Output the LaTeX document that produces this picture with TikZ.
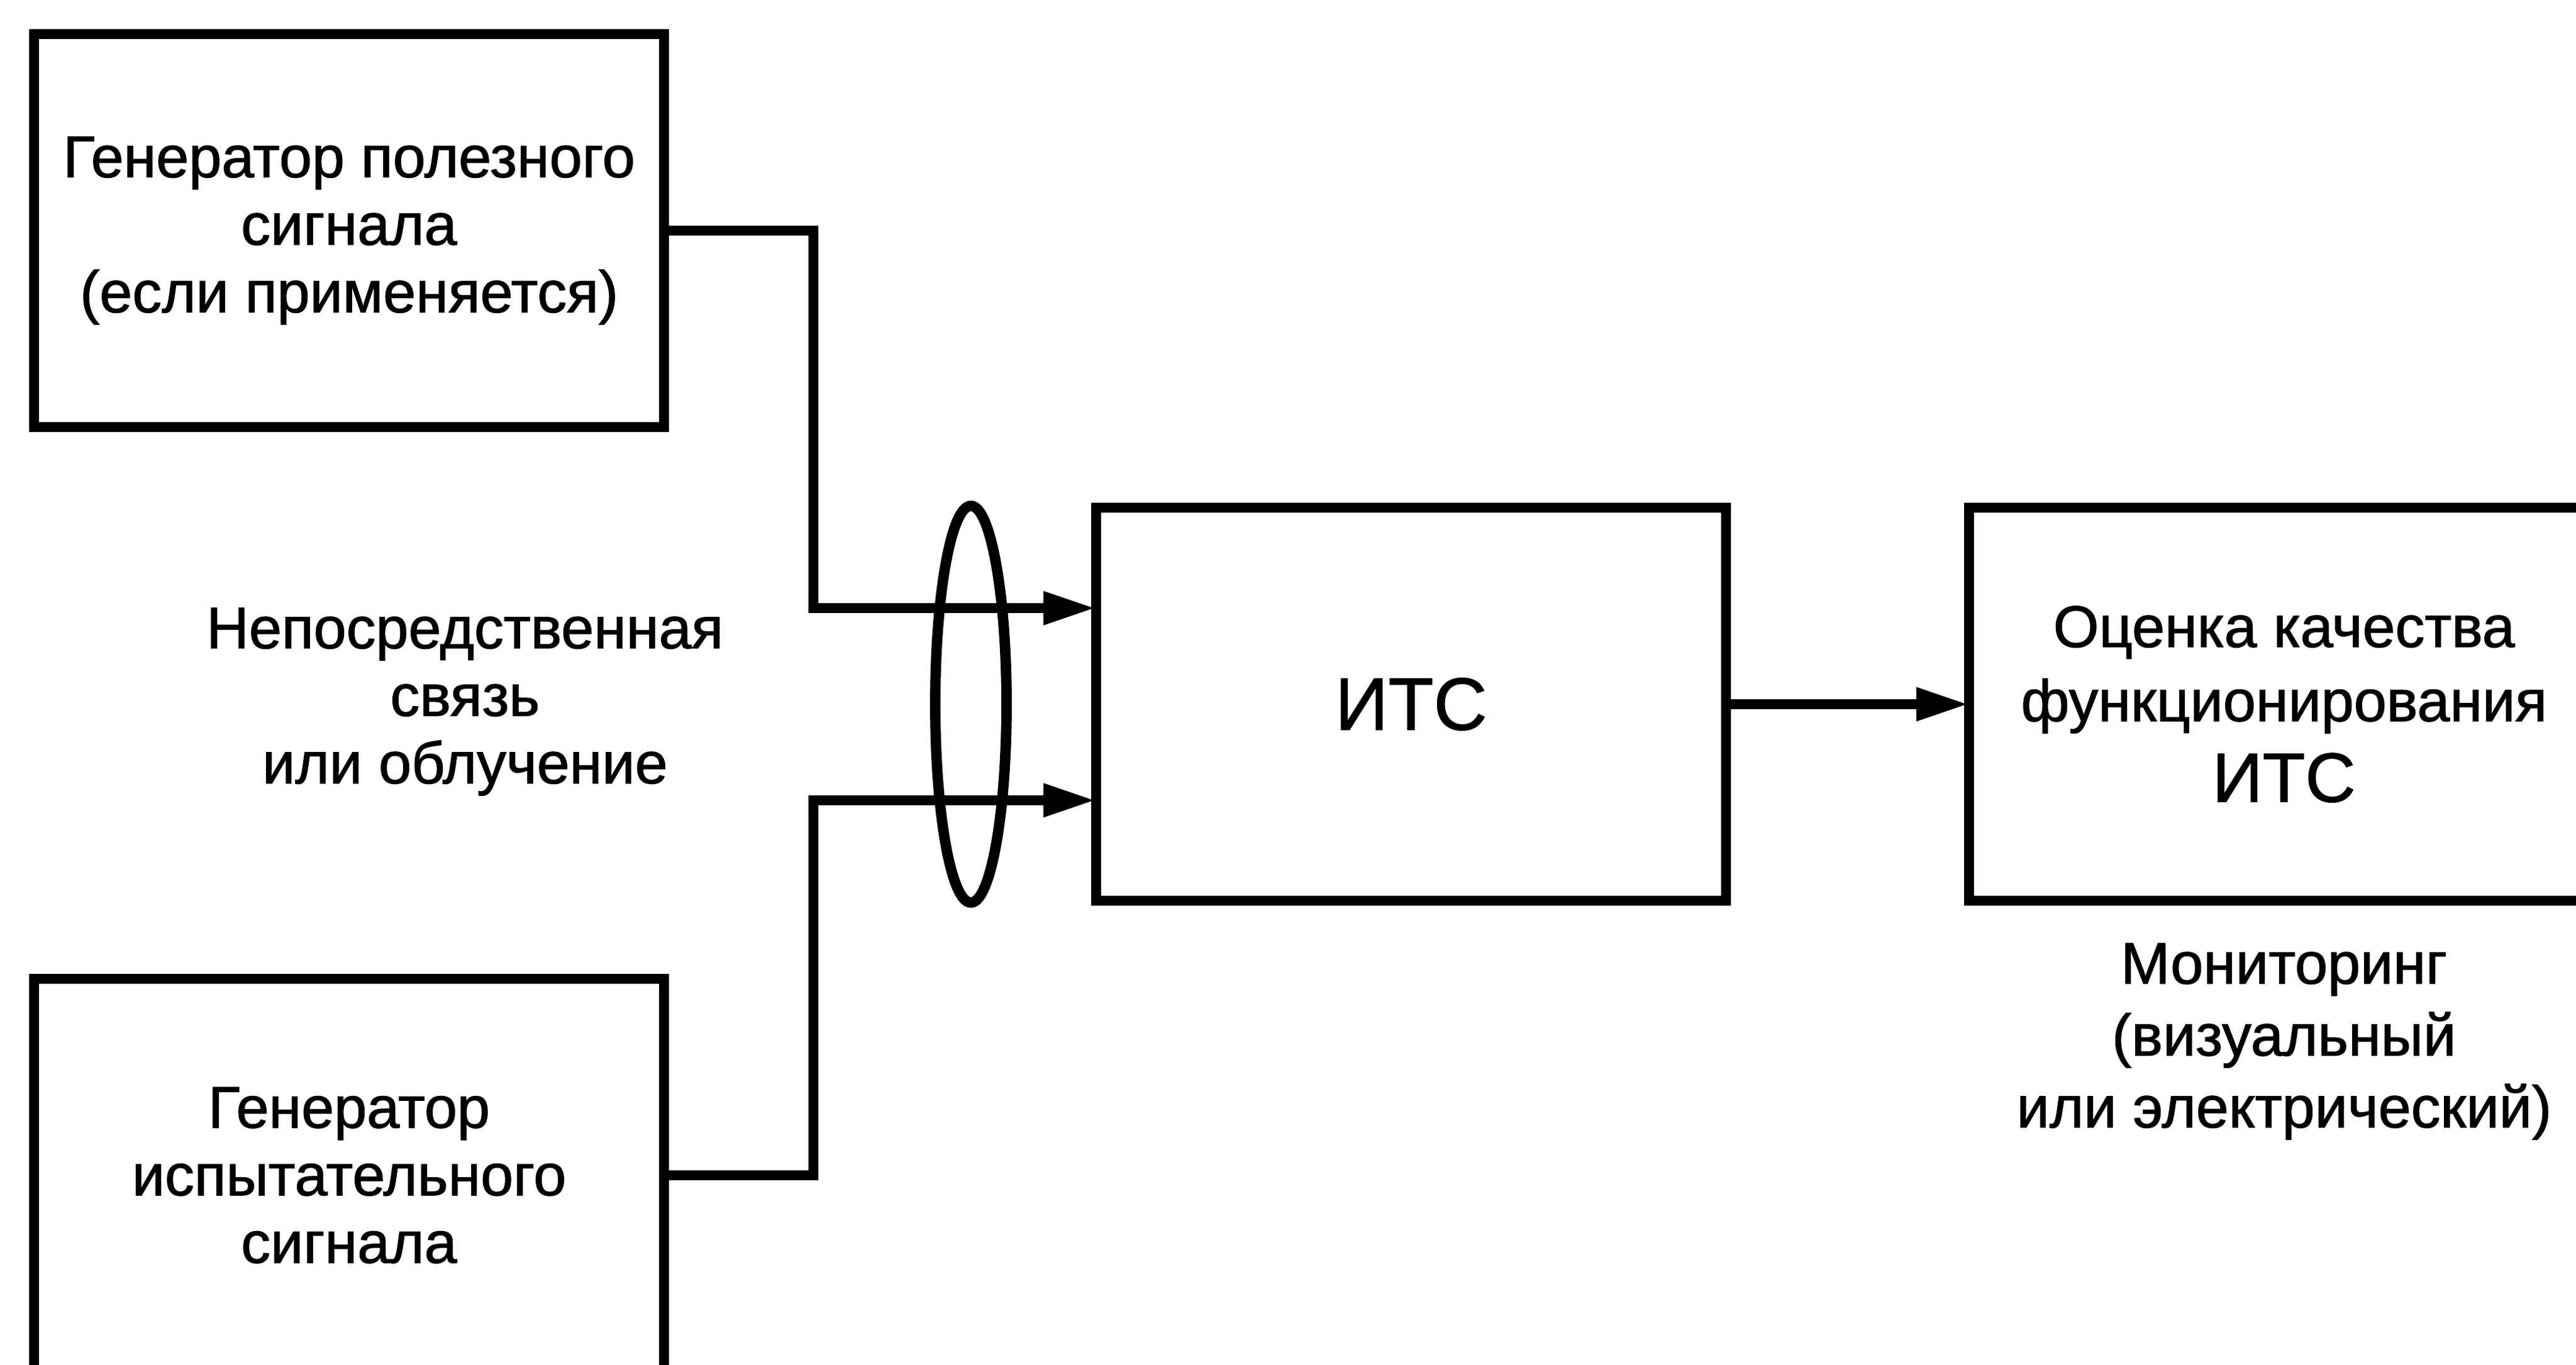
\documentclass[tikz,border=0pt]{standalone}
\usepackage{fontspec}
\setmainfont{Liberation Sans}[FakeBold=1.2]
\usepackage{tikz}
\usetikzlibrary{arrows.meta,shapes,positioning}
\usepackage{xcolor}
\definecolor{lineblack}{RGB}{0,0,0}
\tikzstyle{arrow} = [line width=4.8pt,-{Triangle[length=8.5mm,width=5mm]},color=lineblack]
\tikzstyle{block} = [rectangle, minimum width=10.16cm, minimum height=6.34cm, text centered, align=center, draw=lineblack, line width=4.8pt, inner sep=0pt, outer sep=0pt, font=\fontsize{27}{31}\selectfont]
\tikzstyle{note} = [align=center, font=\fontsize{27}{31}\selectfont]

\begin{document}
\begin{tikzpicture}[node distance=2cm]
\useasboundingbox (0,0) rectangle (41.55,-22.01);
% Sources
\node (gensig) [block] at (5.63,-3.72) {Генератор полезного\\сигнала\\(если применяется)};
\node (gentest) [block, below of=gensig, node distance=15.24cm] {Генератор\\испытательного\\сигнала};

% Device under test and evaluation
\node (its) [block, font=\fontsize{34}{38}\selectfont] at (22.76,-11.36) {ИТС};
\node (eval) [block, right of=its, node distance=14.08cm, font=\fontsize{27}{34}\selectfont] {Оценка качества\\функционирования\\[3pt]{\fontsize{32}{36}\selectfont ИТС}};

% Coupling
\node (coupling) [ellipse, draw=lineblack, line width=4.8pt, minimum width=1.15cm, minimum height=6.4cm, inner sep=0pt] at (15.66,-11.36) {};
\coordinate (bus) at (13.12,-11.36);

\draw[arrow] (gensig.east) -| ([yshift=1.55cm]bus) -- ([yshift=1.55cm]its.west);
\draw[arrow] (gentest.east) -| ([yshift=-1.55cm]bus) -- ([yshift=-1.55cm]its.west);
\draw[arrow] (its.east) -- (eval.west);

\node (link) [note] at (7.5,-11.32) {Непосредственная\\связь\\или облучение};
\node (monitor) [note, below of=eval, node distance=5.44cm, font=\fontsize{27}{33}\selectfont] {Мониторинг\\(визуальный\\или электрический)};
\end{tikzpicture}
\end{document}
